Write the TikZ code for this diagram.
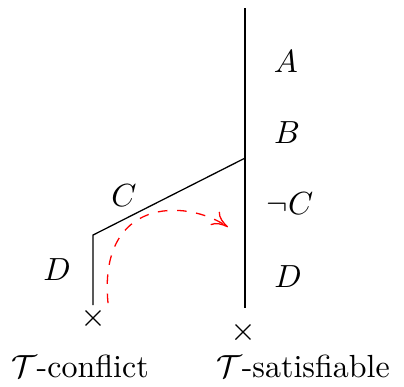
\documentclass[tikz,border=0pt]{standalone}
\usetikzlibrary{shapes.misc,arrows.meta}
\begin{document}
\begin{tikzpicture}[every node/.style={font=\normalsize},
    leaf/.style={cross out,draw,minimum size=0.15cm,inner sep=0pt,line width=0.4pt},
    jump/.style={-{To[length=5pt,width=5pt]},dashed,red}]
  \useasboundingbox (0,0) rectangle (4.436,4.239);
  % trunk and branch
  \coordinate (top) at (2.690,4.151); \coordinate (fork) at (2.690,2.503); \coordinate (bot) at (2.690,0.856);
  \coordinate (corner) at (1.021,1.658); \coordinate (lbot) at (1.021,0.889);
  \draw (top) -- (fork) -- (bot);
  \draw (fork) -- (corner) -- (lbot);
  \node[leaf] (lx) at (1.021,0.747) {}; \node[leaf] (rx) at (2.668,0.593) {};
  % literals
  \node (a) at (3.140,3.558) {$A$}; \node (b) at (3.151,2.778) {$B$};
  \node (nc) at (3.184,2.009) {$\neg C$}; \node (d) at (3.162,1.197) {$D$};
  \node (c) at (1.362,2.097) {$C$}; \node (dl) at (0.626,1.274) {$D$};
  % outcomes
  \node[anchor=base] (conf) at (0.878,0.099) {$\mathcal{T}$-conflict};
  \node[anchor=base] (sat) at (3.327,0.099) {$\mathcal{T}$-satisfiable};
  % backjump
  \coordinate (js) at (1.186,0.911); \coordinate (je) at (2.503,1.746);
  \draw[jump] (js) .. controls (1.076,2.064) and (2.031,2.064) .. (je);
\end{tikzpicture}
\end{document}
